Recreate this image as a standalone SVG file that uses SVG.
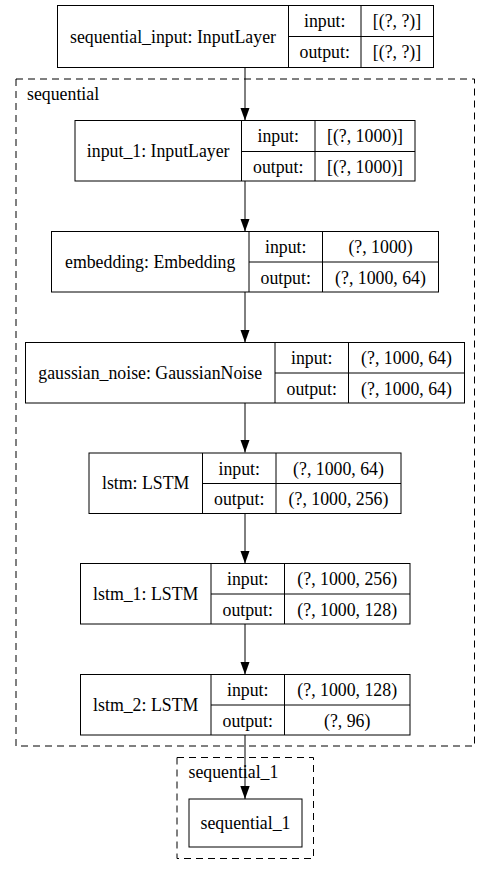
<svg xmlns="http://www.w3.org/2000/svg" width="491" height="875" viewBox="0 0 491 875">
<style>
.b{fill:none;stroke:#000;stroke-width:1}
.c{fill:none;stroke:#000;stroke-width:1;stroke-dasharray:7,5}
text{font-family:"Liberation Serif","Times New Roman",serif;font-size:17.8px;fill:#000}
.m{text-anchor:middle}
.e{fill:none;stroke:#000;stroke-width:1}
</style>
<defs>
<marker id="ah" markerWidth="13" markerHeight="10" refX="13" refY="5" orient="auto" markerUnits="userSpaceOnUse">
<path d="M0,0.3 L13,5 L0,9.7 z" fill="#000"/>
</marker>
</defs>
<rect width="491" height="875" fill="#fff"/>
<g id="cluster_sequential">
<rect class="c" x="16" y="79" width="458.5" height="667"/>
<text x="27" y="100">sequential</text>
</g>
<g id="cluster_sequential_1">
<rect class="c" x="177" y="757.5" width="136.5" height="101"/>
<text x="188.5" y="778">sequential_1</text>
</g>
<g id="connectors">
<line class="e" x1="245" y1="68" x2="245" y2="120.5" marker-end="url(#ah)"/>
<line class="e" x1="245" y1="181" x2="245" y2="231.5" marker-end="url(#ah)"/>
<line class="e" x1="245" y1="292" x2="245" y2="342.5" marker-end="url(#ah)"/>
<line class="e" x1="245" y1="403" x2="245" y2="452.5" marker-end="url(#ah)"/>
<line class="e" x1="245" y1="513.5" x2="245" y2="563.5" marker-end="url(#ah)"/>
<line class="e" x1="245" y1="624" x2="245" y2="674.5" marker-end="url(#ah)"/>
<line class="e" x1="245" y1="735" x2="245" y2="799" marker-end="url(#ah)"/>
</g>
<g id="sequential_input">
<rect class="b" x="57.5" y="5.5" width="376" height="62"/>
<line class="b" x1="288.5" y1="5.5" x2="288.5" y2="67.5"/>
<line class="b" x1="361" y1="5.5" x2="361" y2="67.5"/>
<line class="b" x1="288.5" y1="36.5" x2="433.5" y2="36.5"/>
<text class="m" x="173" y="42.5">sequential_input: InputLayer</text>
<text class="m" x="324.7" y="27">input:</text>
<text class="m" x="324.7" y="58">output:</text>
<text class="m" x="397" y="27">[(?, ?)]</text>
<text class="m" x="397" y="58">[(?, ?)]</text>
</g>
<g id="input_1">
<rect class="b" x="75" y="120.5" width="340" height="60.5"/>
<line class="b" x1="241.5" y1="120.5" x2="241.5" y2="181"/>
<line class="b" x1="315" y1="120.5" x2="315" y2="181"/>
<line class="b" x1="241.5" y1="151.5" x2="415" y2="151.5"/>
<text class="m" x="158.2" y="157">input_1: InputLayer</text>
<text class="m" x="278.2" y="142">input:</text>
<text class="m" x="278.2" y="172.5">output:</text>
<text class="m" x="365" y="142">[(?, 1000)]</text>
<text class="m" x="365" y="172.5">[(?, 1000)]</text>
</g>
<g id="embedding">
<rect class="b" x="51.5" y="231.5" width="387" height="60.5"/>
<line class="b" x1="249" y1="231.5" x2="249" y2="292"/>
<line class="b" x1="322.5" y1="231.5" x2="322.5" y2="292"/>
<line class="b" x1="249" y1="262" x2="438.5" y2="262"/>
<text class="m" x="150.2" y="267.5">embedding: Embedding</text>
<text class="m" x="285.7" y="253">input:</text>
<text class="m" x="285.7" y="283.5">output:</text>
<text class="m" x="380.5" y="253">(?, 1000)</text>
<text class="m" x="380.5" y="283.5">(?, 1000, 64)</text>
</g>
<g id="gaussian_noise">
<rect class="b" x="25.5" y="342.5" width="439" height="60.5"/>
<line class="b" x1="275" y1="342.5" x2="275" y2="403"/>
<line class="b" x1="348.5" y1="342.5" x2="348.5" y2="403"/>
<line class="b" x1="275" y1="373" x2="464.5" y2="373"/>
<text class="m" x="150.2" y="378.5">gaussian_noise: GaussianNoise</text>
<text class="m" x="311.7" y="364">input:</text>
<text class="m" x="311.7" y="394.5">output:</text>
<text class="m" x="406.5" y="364">(?, 1000, 64)</text>
<text class="m" x="406.5" y="394.5">(?, 1000, 64)</text>
</g>
<g id="lstm">
<rect class="b" x="89" y="453" width="312" height="60.5"/>
<line class="b" x1="202.5" y1="453" x2="202.5" y2="513.5"/>
<line class="b" x1="276" y1="453" x2="276" y2="513.5"/>
<line class="b" x1="202.5" y1="483.5" x2="401" y2="483.5"/>
<text class="m" x="145.7" y="489">lstm: LSTM</text>
<text class="m" x="239.2" y="474.5">input:</text>
<text class="m" x="239.2" y="505">output:</text>
<text class="m" x="338.5" y="474.5">(?, 1000, 64)</text>
<text class="m" x="338.5" y="505">(?, 1000, 256)</text>
</g>
<g id="lstm_1">
<rect class="b" x="80.5" y="563.5" width="329.5" height="60.5"/>
<line class="b" x1="211" y1="563.5" x2="211" y2="624"/>
<line class="b" x1="284.5" y1="563.5" x2="284.5" y2="624"/>
<line class="b" x1="211" y1="594" x2="410" y2="594"/>
<text class="m" x="145.7" y="599.5">lstm_1: LSTM</text>
<text class="m" x="247.7" y="585">input:</text>
<text class="m" x="247.7" y="615.5">output:</text>
<text class="m" x="347.2" y="585">(?, 1000, 256)</text>
<text class="m" x="347.2" y="615.5">(?, 1000, 128)</text>
</g>
<g id="lstm_2">
<rect class="b" x="80.5" y="674.5" width="329.5" height="60.5"/>
<line class="b" x1="211" y1="674.5" x2="211" y2="735"/>
<line class="b" x1="284.5" y1="674.5" x2="284.5" y2="735"/>
<line class="b" x1="211" y1="705" x2="410" y2="705"/>
<text class="m" x="145.7" y="710.5">lstm_2: LSTM</text>
<text class="m" x="247.7" y="696">input:</text>
<text class="m" x="247.7" y="726.5">output:</text>
<text class="m" x="347.2" y="696">(?, 1000, 128)</text>
<text class="m" x="347.2" y="726.5">(?, 96)</text>
</g>
<g id="sequential_1">
<rect class="b" x="189" y="799" width="113" height="48"/>
<text class="m" x="245.5" y="828.5">sequential_1</text>
</g>
</svg>
